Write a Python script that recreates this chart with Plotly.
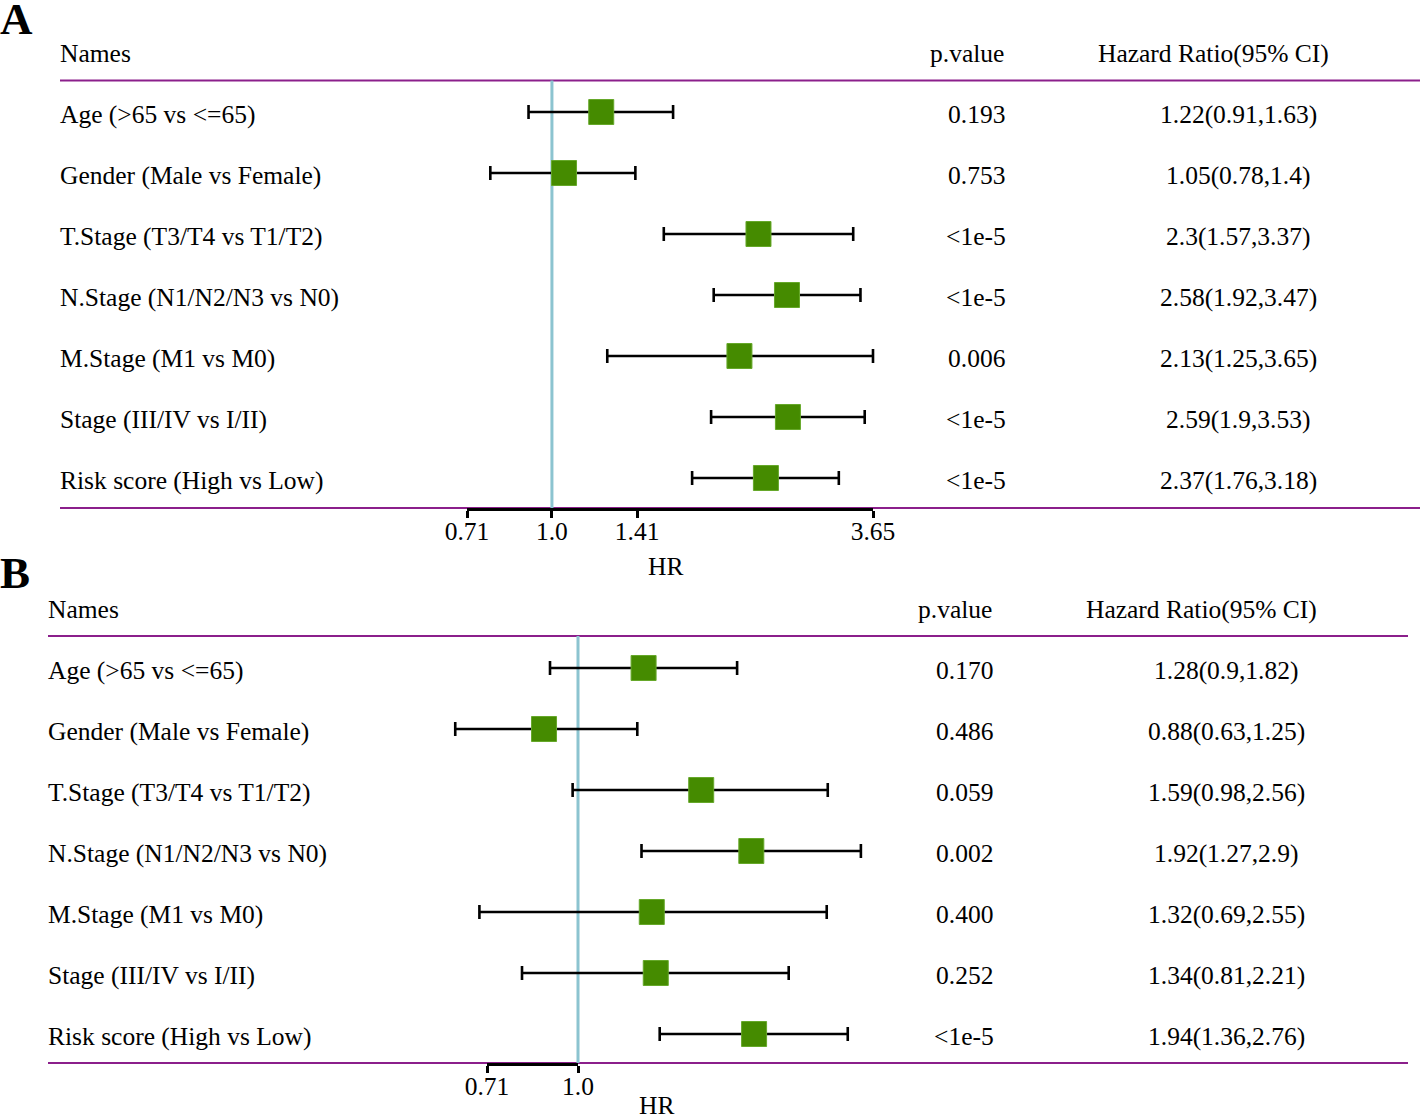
import math
import plotly.graph_objects as go

W, H = 1424, 1116
FONT = "Liberation Serif"
FS = 25.5

# ---------------- data ----------------
names = ["Age (>65 vs <=65)", "Gender (Male vs Female)", "T.Stage (T3/T4 vs T1/T2)",
         "N.Stage (N1/N2/N3 vs N0)", "M.Stage (M1 vs M0)", "Stage (III/IV vs I/II)",
         "Risk score (High vs Low)"]
headers = ["Names", "p.value", "Hazard Ratio(95% CI)"]

hr_a = [1.22, 1.05, 2.3, 2.58, 2.13, 2.59, 2.37]
lo_a = [0.91, 0.78, 1.57, 1.92, 1.25, 1.9, 1.76]
hi_a = [1.63, 1.4, 3.37, 3.47, 3.65, 3.53, 3.18]
p_a = ["0.193", "0.753", "<1e-5", "<1e-5", "0.006", "<1e-5", "<1e-5"]
ci_a = ["1.22(0.91,1.63)", "1.05(0.78,1.4)", "2.3(1.57,3.37)", "2.58(1.92,3.47)",
        "2.13(1.25,3.65)", "2.59(1.9,3.53)", "2.37(1.76,3.18)"]
tick_a = [0.71, 1.0, 1.41, 3.65]
tick_a_text = ["0.71", "1.0", "1.41", "3.65"]

hr_b = [1.28, 0.88, 1.59, 1.92, 1.32, 1.34, 1.94]
lo_b = [0.9, 0.63, 0.98, 1.27, 0.69, 0.81, 1.36]
hi_b = [1.82, 1.25, 2.56, 2.9, 2.55, 2.21, 2.76]
p_b = ["0.170", "0.486", "0.059", "0.002", "0.400", "0.252", "<1e-5"]
ci_b = ["1.28(0.9,1.82)", "0.88(0.63,1.25)", "1.59(0.98,2.56)", "1.92(1.27,2.9)",
        "1.32(0.69,2.55)", "1.34(0.81,2.21)", "1.94(1.36,2.76)"]
tick_b = [0.71, 1.0]
tick_b_text = ["0.71", "1.0"]

# ---------------- style / layout ----------------
GREEN = "#458B00"
GREEN_EDGE = "#66A82A"
PURPLE = "#8B1F8B"
REFC = "#8CC4D0"
PITCH = 61.0

panels = [
    dict(label="A", hr=hr_a, lo=lo_a, hi=hi_a, p=p_a, ci=ci_a, ticks=tick_a, ticktext=tick_a_text,
         ax_left=467, ax_right=873, row0=112, top=80.5, bottom=508, header=53, dx=0,
         label_xy=(16, 19), hr_xy=(665, 566), ytop=0),
    dict(label="B", hr=hr_b, lo=lo_b, hi=hi_b, p=p_b, ci=ci_b, ticks=tick_b, ticktext=tick_b_text,
         ax_left=487, ax_right=578, row0=668, top=636, bottom=1063, header=609, dx=-12,
         label_xy=(15, 573), hr_xy=(656, 1105), ytop=560),
]


def esc(s):
    return s.replace("<", "&lt;").replace(">", "&gt;")


fig = go.Figure()
annotations = []
shapes = []
layout_axes = {}

for i, P in enumerate(panels):
    n = i + 1
    xs = "" if n == 1 else str(n)
    xa_name, ya_name = "x" + xs, "y" + xs
    ax_id = str(n + 2)
    row0 = P["row0"]

    def v(pix, row0=row0):
        return (pix - row0) / PITCH

    rows = list(range(len(names)))
    t0, t1 = P["ticks"][0], P["ticks"][-1]
    k = (P["ax_right"] - P["ax_left"]) / (math.log10(t1) - math.log10(t0))
    xr = [math.log10(t0) - P["ax_left"] / k, math.log10(t0) + (W - P["ax_left"]) / k]

    # reference line at HR = 1
    fig.add_trace(go.Scatter(x=[1, 1], y=[v(P["top"]), v(P["bottom"])], mode="lines",
                             line=dict(color=REFC, width=3), xaxis=xa_name, yaxis=ya_name,
                             hoverinfo="skip", showlegend=False))
    # CI + point estimate
    fig.add_trace(go.Scatter(
        x=P["hr"], y=rows, mode="markers",
        marker=dict(symbol="square", size=25, color=GREEN, line=dict(color=GREEN_EDGE, width=1)),
        error_x=dict(type="data", symmetric=False,
                     array=[h - m for h, m in zip(P["hi"], P["hr"])],
                     arrayminus=[m - l for m, l in zip(P["hr"], P["lo"])],
                     color="black", thickness=2.6, width=7),
        xaxis=xa_name, yaxis=ya_name, showlegend=False))
    # invisible trace so that the tick-only HR axis gets its own subplot drawn
    fig.add_trace(go.Scatter(x=P["ticks"], y=[v(P["row0"])] * len(P["ticks"]), mode="markers",
                             marker=dict(opacity=0, size=1), xaxis="x" + ax_id, yaxis=ya_name,
                             hoverinfo="skip", showlegend=False))

    layout_axes["xaxis" + xs] = dict(domain=[0, 1], type="log", range=xr, visible=False,
                                     anchor=ya_name, fixedrange=True, automargin=False)
    layout_axes["yaxis" + xs] = dict(domain=[1 - P["bottom"] / H, 1 - P["ytop"] / H],
                                     range=[v(P["bottom"]), v(P["ytop"])], visible=False,
                                     anchor=xa_name, fixedrange=True, automargin=False)
    # axis-only x axis spanning exactly the tick range
    layout_axes["xaxis" + ax_id] = dict(
        domain=[P["ax_left"] / W, P["ax_right"] / W], anchor=ya_name, type="log",
        range=[math.log10(t0), math.log10(t1)], tickmode="array", tickvals=P["ticks"],
        ticktext=P["ticktext"], ticks="outside", ticklen=7, tickwidth=2.5, tickcolor="black",
        showline=True, linewidth=2.5, linecolor="black", showgrid=False, zeroline=False,
        tickfont=dict(family=FONT, size=FS, color="black"), fixedrange=True,
        automargin=False, ticklabelstandoff=-8)

    dx = P["dx"]
    # horizontal purple rules
    for pix in (P["top"], P["bottom"]):
        shapes.append(dict(type="line", xref="paper", yref="paper", x0=(60 + dx) / W, x1=(1420 + dx) / W,
                           y0=1 - pix / H, y1=1 - pix / H, line=dict(color=PURPLE, width=1.8),
                           layer="below"))
    # headers
    hv = v(P["header"])
    annotations.append(dict(text=headers[0], x=(58 + dx) / W, xanchor="left", y=hv))
    annotations.append(dict(text=headers[1], x=(967 + dx) / W, xanchor="center", y=hv))
    annotations.append(dict(text=headers[2], x=(1213 + dx) / W, xanchor="center", y=hv))
    for r in rows:
        annotations.append(dict(text=esc(names[r]), x=(58 + dx) / W, xanchor="left", y=r, yshift=-2))
        annotations.append(dict(text=esc(P["p"][r]), x=(976 + dx) / W, xanchor="center", y=r, yshift=-2))
        annotations.append(dict(text=esc(P["ci"][r]), x=(1238 + dx) / W, xanchor="center", y=r, yshift=-2))
    for a in annotations[-(3 + 3 * len(rows)):]:
        a.update(xref="paper", yref=ya_name, yanchor="middle", showarrow=False,
                 font=dict(family=FONT, size=FS, color="black"))
    # HR axis label
    annotations.append(dict(text="HR", x=P["hr_xy"][0] / W, y=1 - P["hr_xy"][1] / H, xref="paper",
                            yref="paper", xanchor="center", yanchor="middle", showarrow=False,
                            font=dict(family=FONT, size=FS, color="black")))
    # panel letter
    annotations.append(dict(text="<b>%s</b>" % P["label"], x=P["label_xy"][0] / W,
                            y=1 - P["label_xy"][1] / H, xref="paper", yref="paper",
                            xanchor="center", yanchor="middle", showarrow=False,
                            font=dict(family=FONT, size=45, color="black")))

fig.update_layout(
    width=W, height=H, autosize=False,
    margin=dict(l=0, r=0, t=0, b=0, pad=0),
    paper_bgcolor="white", plot_bgcolor="rgba(0,0,0,0)",
    showlegend=False, annotations=annotations, shapes=shapes,
    font=dict(family=FONT, size=FS, color="black"),
    **layout_axes,
)

fig.write_html("out.html", config={"displayModeBar": False},
               post_script="document.body.style.margin='0px';document.body.style.overflow='hidden';")
